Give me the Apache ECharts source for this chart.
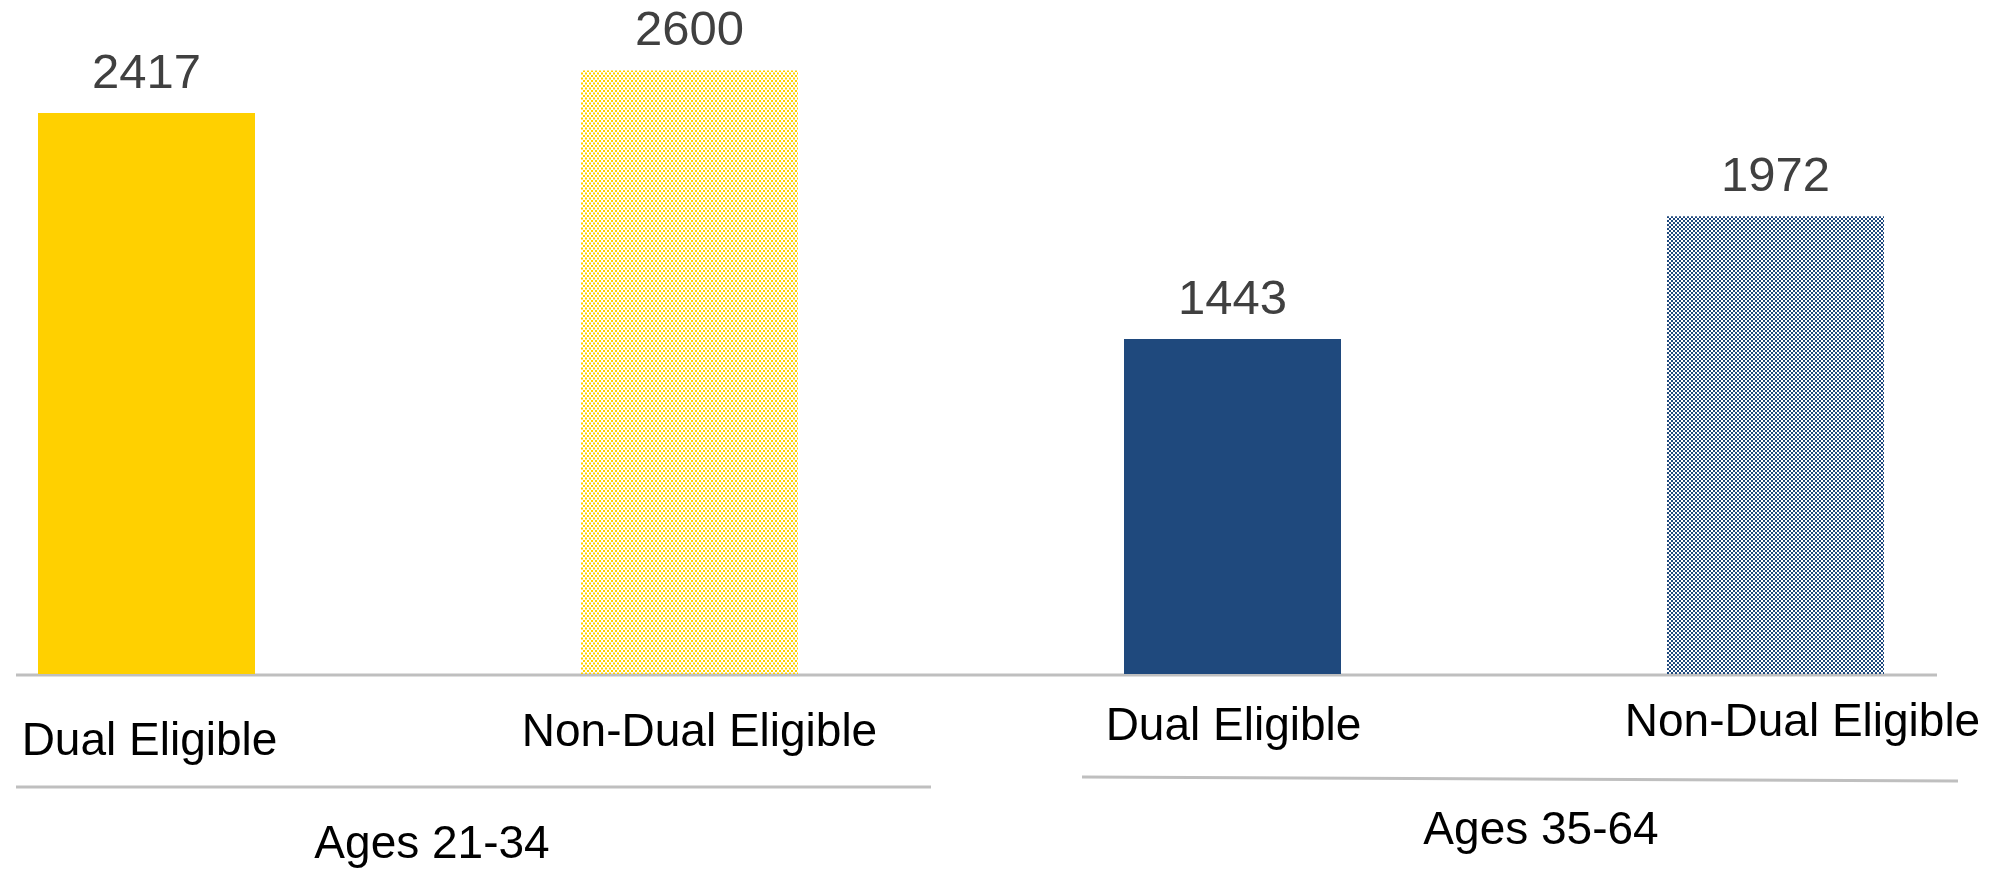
<!DOCTYPE html>
<html>
<head>
<meta charset="utf-8">
<style>
  html, body { margin: 0; padding: 0; background: #fff; overflow: hidden; }
  /* plot is wider than the window so the outer bands fall off the edges, like the excel chart */
  #chart { position: absolute; left: -125px; top: 0; width: 2172px; height: 869px; }
</style>
<script src="https://cdn.jsdelivr.net/npm/echarts@6/dist/echarts.min.js"></script>
</head>
<body>
<div id="chart"></div>
<script>
// data
var categories = ['Dual Eligible', 'Non-Dual Eligible', 'Dual Eligible', 'Non-Dual Eligible'];
var values = [2417, 2600, 1443, 1972];
var groups = ['Ages 21-34', 'Ages 35-64'];

// dotted fill like the excel pattern
function dots(color, w, h) {
    var c = document.createElement('canvas');
    c.width = w * 2;
    c.height = h * 2;
    var ctx = c.getContext('2d');
    ctx.fillStyle = color;
    ctx.fillRect(0, 0, 2, 2);
    ctx.fillRect(w, 0, 2, 2);
    ctx.fillRect(w / 2, h / 2, 2, 2);
    ctx.fillRect(w * 1.5, h / 2, 2, 2);
    ctx.fillRect(0, h, 2, 2);
    ctx.fillRect(w, h, 2, 2);
    ctx.fillRect(w / 2, h * 1.5, 2, 2);
    ctx.fillRect(w * 1.5, h * 1.5, 2, 2);
    return c;
}

var yellow = '#FFD000';
var blue = '#1F497D';
var fills = [
    yellow,
    { image: dots(yellow, 4, 5), repeat: 'repeat' },
    blue,
    { image: dots(blue, 4, 4), repeat: 'repeat' }
];

// small nudges so the labels sit where the original has them
var labelPad = [[19, 0, 0, 6], [10, 0, 0, 20], [4, 0, 0, 2], [0, 0, 0, 54]];
var groupPad = [[14, 0, 0, 28], [0, 0, 0, 74]];

// window x -> chart x (the div starts 125px left of the window)
var dx = 125;

var chart = echarts.init(document.getElementById('chart'));

var option = {
    backgroundColor: '#fff',
    animation: false,
    grid: { left: 0, right: 0, top: 24, bottom: 195, outerBoundsMode: 'none' },
    xAxis: [
        {
            type: 'category',
            data: categories.map(function (c, i) {
                return { value: c, textStyle: { padding: labelPad[i] } };
            }),
            axisLine: { show: false },
            axisTick: { show: false },
            axisLabel: {
                color: '#000',
                fontSize: 46,
                fontFamily: 'Liberation Sans',
                margin: 26,
                interval: 0
            }
        },
        {
            type: 'category',
            position: 'bottom',
            offset: 134,
            data: groups.map(function (g, i) {
                return { value: g, textStyle: { padding: groupPad[i] } };
            }),
            axisLine: { show: false },
            axisTick: { show: false },
            axisLabel: {
                color: '#000',
                fontSize: 46,
                fontFamily: 'Liberation Sans',
                margin: 0,
                interval: 0
            }
        }
    ],
    yAxis: {
        type: 'value',
        min: 0,
        max: 2800,
        show: false,
        splitLine: { show: false }
    },
    series: [
        {
            type: 'bar',
            xAxisIndex: 0,
            barWidth: 217,
            data: values.map(function (v, i) {
                return { value: v, itemStyle: { color: fills[i] } };
            }),
            label: {
                show: true,
                position: 'top',
                distance: 14,
                color: '#404040',
                fontSize: 49,
                fontFamily: 'Liberation Sans'
            }
        }
    ],
    graphic: [
        // baseline
        { type: 'line', shape: { x1: 16 + dx, y1: 675, x2: 1937 + dx, y2: 675 }, style: { stroke: '#BFBFBF', lineWidth: 3 } },
        // group brackets
        { type: 'line', shape: { x1: 16 + dx, y1: 787, x2: 931 + dx, y2: 787 }, style: { stroke: '#BFBFBF', lineWidth: 3 } },
        { type: 'line', shape: { x1: 1082 + dx, y1: 777, x2: 1958 + dx, y2: 781 }, style: { stroke: '#BFBFBF', lineWidth: 3 } }
    ]
};

chart.setOption(option);
window.addEventListener('resize', function () {
    chart.resize();
});
</script>
</body>
</html>
